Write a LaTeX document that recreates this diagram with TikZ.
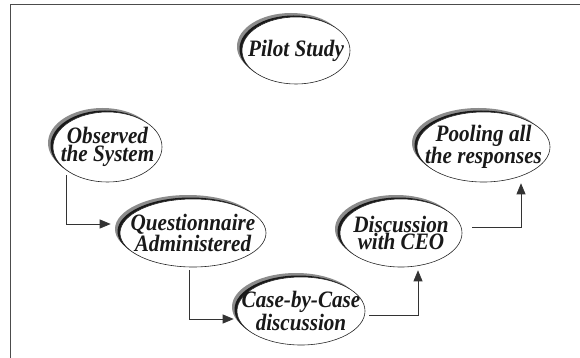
\documentclass[tikz,border=0pt]{standalone}
\usepackage{fontspec}
\setmainfont{Liberation Serif}
\newfontfamily\stagefont{Liberation Serif}[FakeStretch=0.9]
\usetikzlibrary{shapes.geometric,arrows.meta,shadows}

\tikzset{
  stage/.style={ellipse, draw=black!85, line width=0.6pt, fill=white, inner sep=0pt,
    general shadow={shadow xshift=-5pt, shadow yshift=4pt, fill=black!45},
    general shadow={shadow xshift=-2.5pt, shadow yshift=1.5pt, fill=black!90}},
  stagetext/.style={font=\stagefont\fontsize{23.5}{17.5}\selectfont\bfseries\itshape,
    text=black!90, align=center, inner sep=0pt},
  flow/.style={draw=black!80, line width=0.7pt, -{Triangle[length=11pt,width=9pt]}}
}

\begin{document}
\begin{tikzpicture}[x=1pt, y=-1pt]
  \useasboundingbox (0,0) rectangle (580,358);
  \clip (0,0) rectangle (580,358);
  % Frame
  \draw[black!70, line width=1pt] (10,5) rectangle (600,380);
  % Stages
  \node[stage, minimum width=108pt, minimum height=67pt,
    label={[stagetext]center:Pilot Study}] (pilot) at (296,50.5) {};
  \node[stage, minimum width=109pt, minimum height=70pt,
    label={[stagetext]center:{Observed\\the System}}] (obs) at (107.5,147) {};
  \node[stage, minimum width=146pt, minimum height=68pt,
    label={[stagetext]center:{Questionnaire\\Administered}}] (quest) at (193,233) {};
  \node[stage, minimum width=128pt, minimum height=68pt,
    label={[stagetext]center:{Case-by-Case\\discussion}}] (case) at (301,311) {};
  \node[stage, minimum width=122pt, minimum height=68pt,
    label={[stagetext]center:{Discussion\\with CEO}}] (disc) at (401,233) {};
  \node[stage, minimum width=133pt, minimum height=70pt,
    label={[stagetext]center:{Pooling all\\the responses}}] (pool) at (483.5,147) {};
  % Connectors
  \draw[flow] ([yshift=-5pt]obs.209) |- ([xshift=-9pt,yshift=9pt]quest.west);
  \draw[flow] ([xshift=-4pt,yshift=-3pt]quest.south) |- ([xshift=-3pt,yshift=-8pt]case.west);
  \draw[flow] ([xshift=4pt,yshift=-4pt]case.east) -| ([xshift=17pt,yshift=-3pt]disc.south);
  \draw[flow] ([xshift=10pt,yshift=6pt]disc.east) -| ([xshift=37.5pt,yshift=-1pt]pool.south);
\end{tikzpicture}
\end{document}
